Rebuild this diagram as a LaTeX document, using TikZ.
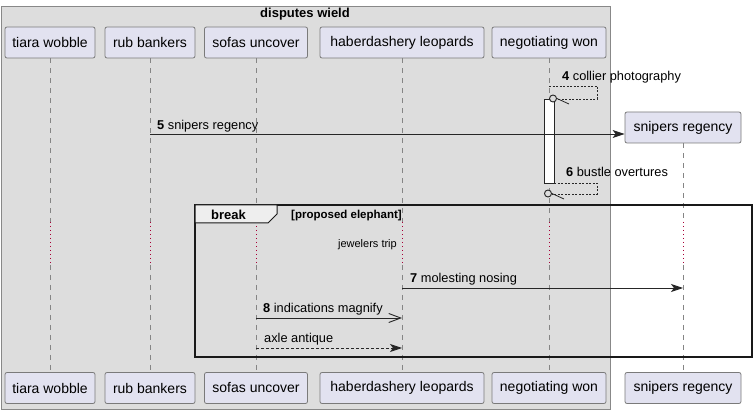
\documentclass[tikz,border=0pt]{standalone}
\usepackage{fontspec}
\setmainfont{Liberation Sans}
\usetikzlibrary{arrows.meta}
\definecolor{grp}{HTML}{DDDDDD}
\definecolor{grpb}{HTML}{888888}
\definecolor{part}{HTML}{E2E2F0}
\definecolor{partb}{HTML}{7A7A7A}
\definecolor{life}{HTML}{858585}
\definecolor{dotred}{HTML}{A80036}
\definecolor{tabc}{HTML}{EEEEEE}
\begin{document}
\begin{tikzpicture}[x=1pt,y=-1pt,
  partbox/.style={draw=partb, fill=part, rounded corners=2pt, minimum height=31pt, inner sep=0pt, font=\fontsize{14}{16}\selectfont, line width=0.8pt},
  lifeline/.style={draw=life, line width=0.8pt, dash pattern=on 5pt off 5pt},
  delayline/.style={draw=dotred, line width=0.9pt, dash pattern=on 1pt off 3pt},
  msg/.style={draw=black!85, line width=0.9pt, -{Stealth[length=12pt,width=8pt,inset=3pt]}},
  openmsg/.style={draw=black!85, line width=0.9pt, -{Straight Barb[length=12pt,width=9pt]}},
  retmsg/.style={draw=black!85, line width=0.9pt, dash pattern=on 3pt off 2pt, -{Stealth[length=12pt,width=8pt,inset=3pt]}},
  selfmsg/.style={draw=black!85, line width=0.8pt, dash pattern=on 2pt off 1.5pt},
  lbl/.style={font=\fontsize{12.8}{14}\selectfont, anchor=base west, inner sep=0pt},
  circ/.style={draw=black!85, fill=grp, line width=0.9pt, circle, minimum size=7pt, inner sep=0pt}
]
\useasboundingbox (0,0) rectangle (756,414);
\fill[white] (0,0) rectangle (756,414);
% group box
\draw[draw=grpb, fill=grp, line width=0.8pt] (1,6.5) rectangle (610,409);
\node[font=\bfseries\fontsize{13}{15}\selectfont] (title) at (305,14.5) {disputes wield};

% participants
\node[partbox, minimum width=90pt] (aT) at (50,42.5) {tiara wobble};
\node[partbox, minimum width=90pt] (bT) at (150,42.5) {rub bankers};
\node[partbox, minimum width=103pt] (cT) at (256,42.5) {sofas uncover};
\node[partbox, minimum width=164pt] (dT) at (402,42.5) {haberdashery leopards};
\node[partbox, minimum width=114pt] (eT) at (549,42.5) {negotiating won};
\node[partbox, minimum width=116pt] (fT) at (683,127.5) {snipers regency};

\node[partbox, minimum width=90pt] (aB) at (50,388) {tiara wobble};
\node[partbox, minimum width=90pt] (bB) at (150,388) {rub bankers};
\node[partbox, minimum width=103pt] (cB) at (256,388) {sofas uncover};
\node[partbox, minimum width=164pt] (dB) at (402,388) {haberdashery leopards};
\node[partbox, minimum width=114pt] (eB) at (549,388) {negotiating won};
\node[partbox, minimum width=116pt] (fB) at (683,388) {snipers regency};

% delay band
\coordinate (d1) at (0,222);
\coordinate (d2) at (0,265);
\foreach \p in {a,b,c,d,e,f}{
  \draw[lifeline] (\p T.south) -- (\p T.south |- d1);
  \draw[delayline] (\p T.south |- d1) -- (\p T.south |- d2);
  \draw[lifeline] (\p T.south |- d2) -- (\p B.north);
}

% activation bar
\node[draw=black!85, fill=white, line width=0.8pt, minimum width=10pt, minimum height=84pt, inner sep=0pt] (act) at (549,141) {};

% message 4 (self)
\coordinate (m4) at (0,86);
\coordinate (m4r) at (0,99);
\coordinate (m4x) at (597,0);
\draw[selfmsg] (eT.south |- m4) -- (m4x |- m4) -- (m4x |- m4r) -- (557,99);
\node[circ] (c4) at (553,98.5) {};
\draw[draw=black!85, line width=0.8pt] (c4.east) -- (569,104);
\node[lbl] (l4) at (562,81) {\textbf{4} collier photography};

% message 5
\coordinate (m5) at (0,134);
\draw[msg] (bT.south |- m5) -- (fT.west |- m5);
\node[lbl] (l5) at (157,130) {\textbf{5} snipers regency};

% message 6 (self)
\coordinate (m6) at (0,183);
\coordinate (m6r) at (0,194);
\draw[selfmsg] (act.east |- m6) -- (m4x |- m6) -- (m4x |- m6r) -- (552,194);
\node[circ] (c6) at (548,193.5) {};
\draw[draw=black!85, line width=0.8pt] (c6.east) -- (564,199);
\node[lbl] (l6) at (566,177) {\textbf{6} bustle overtures};

% break frame
\draw[black!90, line width=1.4pt] (195,205) rectangle (752,357);
\filldraw[fill=tabc, draw=black!90, line width=1pt] (195,205) -- (277,205) -- (277,214) -- (268,223) -- (195,223) -- cycle;
\node[font=\bfseries\fontsize{13}{15}\selectfont, anchor=base west, inner sep=0pt] (brk) at (211,220) {break};
\node[font=\bfseries\fontsize{11.5}{13}\selectfont, anchor=base west, inner sep=0pt] (cond) at (291,219) {[proposed elephant]};

\node[font=\fontsize{11}{13}\selectfont, anchor=base east, inner sep=0pt] (jt) at (397,248) {jewelers trip};

% message 7
\coordinate (m7) at (0,288);
\draw[msg] (dT.south |- m7) -- (fT.south |- m7);
\node[lbl] (l7) at (410,283) {\textbf{7} molesting nosing};

% message 8
\coordinate (m8) at (0,318);
\draw[openmsg] (cT.south |- m8) -- (dT.south |- m8);
\node[lbl] (l8) at (263,313) {\textbf{8} indications magnify};

% axle antique
\coordinate (m9) at (0,348);
\draw[retmsg] (cT.south |- m9) -- (dT.south |- m9);
\node[lbl] (l9) at (264,343) {axle antique};
\end{tikzpicture}
\end{document}
